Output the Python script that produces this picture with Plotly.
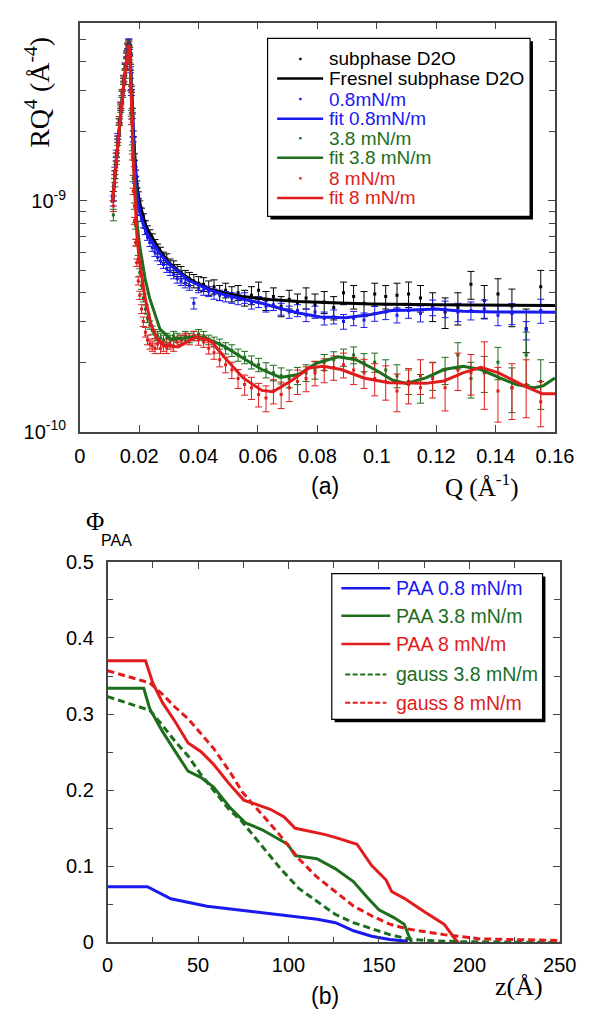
import numpy as np
import plotly.graph_objects as go

W, H = 597, 1020

# ---------------- panel (a): reflectivity data, units of 1e-10 ----------------
q_data = [0.0113, 0.0118, 0.0123, 0.0128, 0.0133, 0.0138, 0.0143, 0.0148, 0.0153, 0.0158,
          0.0162, 0.0165, 0.0168, 0.0171, 0.0174, 0.0177, 0.0180,
          0.0184, 0.0188, 0.0192, 0.0197, 0.0202, 0.0208, 0.0214, 0.0221, 0.0228, 0.0236,
          0.0244, 0.0253, 0.0262, 0.0272, 0.0282, 0.0293, 0.0304, 0.0316, 0.0328, 0.0341,
          0.0355, 0.0369, 0.0384, 0.0400, 0.0417, 0.0434, 0.0452, 0.0471, 0.0491, 0.0512,
          0.0533, 0.0555, 0.0578, 0.0602, 0.0627, 0.0652, 0.0678, 0.0705, 0.0733, 0.0762,
          0.0792, 0.0823, 0.0855, 0.0888, 0.0922, 0.0957, 0.0993, 0.1030, 0.1068, 0.1107,
          0.1147, 0.1188, 0.1230, 0.1273, 0.1317, 0.1362, 0.1408, 0.1455, 0.1503, 0.1552]

sub_val = [10.5, 13.0, 15.5, 18.5, 22.0, 25.5, 29.0, 33.0, 38.0, 42.5,
           46.5, 48.5, 45.0, 38.0, 30.5, 24.5, 19.5,
           15.5, 13.2, 11.8, 10.6, 9.7, 9.0, 8.5, 7.9, 7.5, 7.2,
           6.9, 6.5, 6.2, 6.0, 5.7, 5.6, 5.3, 5.2, 5.0, 4.9,
           4.7, 4.6, 4.5, 4.4, 4.35, 4.2, 4.25, 4.0, 4.1, 3.95,
           4.0, 3.8, 3.9, 4.1, 3.7, 3.85, 3.5, 3.75, 3.6, 3.8,
           3.55, 3.65, 3.45, 4.0, 3.85, 3.6, 3.95, 3.85, 3.9, 3.95,
           3.8, 3.5, 3.3, 3.45, 4.35, 3.7, 3.95, 3.5, 2.8, 4.25]
sub_err = [0.5, 0.5, 0.6, 0.6, 0.7, 0.8, 0.9, 1.0, 1.1, 1.2,
           1.3, 1.4, 1.3, 1.1, 0.9, 0.7, 0.6,
           0.5, 0.4, 0.4, 0.35, 0.3, 0.3, 0.3, 0.3, 0.3, 0.3,
           0.3, 0.3, 0.3, 0.3, 0.3, 0.3, 0.3, 0.3, 0.3, 0.3,
           0.3, 0.3, 0.3, 0.3, 0.3, 0.3, 0.3, 0.3, 0.3, 0.3,
           0.3, 0.3, 0.35, 0.35, 0.35, 0.35, 0.35, 0.35, 0.35, 0.4,
           0.4, 0.4, 0.4, 0.45, 0.45, 0.45, 0.45, 0.45, 0.5, 0.5,
           0.5, 0.5, 0.5, 0.55, 0.6, 0.6, 0.65, 0.65, 0.6, 0.75]

p08_val = [10.0, 13.5, 16.0, 19.0, 22.5, 26.0, 29.5, 34.0, 38.5, 43.5,
           47.0, 49.0, 44.0, 37.0, 29.5, 23.5, 18.5,
           14.5, 12.3, 11.0, 9.9, 9.0, 8.4, 7.9, 7.4, 7.0, 6.6,
           6.3, 6.0, 5.7, 5.5, 5.3, 5.1, 4.95, 4.8, 4.6, 4.5,
           4.4, 4.3, 3.6, 4.2, 4.1, 4.05, 3.95, 3.9, 3.85, 3.8,
           3.75, 3.8, 3.6, 3.65, 3.5, 3.55, 3.4, 3.3, 3.35, 3.2,
           3.3, 3.1, 3.15, 3.0, 3.1, 3.05, 3.25, 3.3, 3.2, 3.35,
           3.25, 3.45, 3.4, 3.3, 3.35, 3.4, 3.2, 3.25, 2.75, 3.35]
p08_err = [0.5, 0.5, 0.6, 0.6, 0.7, 0.8, 0.9, 1.0, 1.1, 1.2,
           1.3, 1.4, 1.3, 1.1, 0.9, 0.7, 0.5,
           0.45, 0.4, 0.35, 0.3, 0.3, 0.25, 0.25, 0.25, 0.25, 0.25,
           0.25, 0.25, 0.2, 0.2, 0.2, 0.2, 0.2, 0.2, 0.2, 0.2,
           0.2, 0.2, 0.2, 0.2, 0.2, 0.2, 0.2, 0.2, 0.2, 0.2,
           0.2, 0.2, 0.2, 0.2, 0.2, 0.2, 0.2, 0.2, 0.2, 0.2,
           0.2, 0.2, 0.22, 0.22, 0.22, 0.22, 0.24, 0.24, 0.24, 0.25,
           0.26, 0.27, 0.28, 0.3, 0.3, 0.32, 0.32, 0.34, 0.25, 0.4]

p38_val = [8.7, 12.0, 15.0, 18.0, 22.0, 25.0, 29.0, 33.5, 38.0, 43.0,
           47.0, 48.0, 42.0, 33.0, 24.0, 17.0, 12.5,
           9.5, 7.8, 6.6, 5.6, 4.9, 4.3, 3.8, 3.4, 3.1, 2.9,
           2.75, 2.65, 2.6, 2.55, 2.5, 2.55, 2.5, 2.6, 2.55, 2.5,
           2.6, 2.55, 2.6, 2.65, 2.6, 2.5, 2.45, 2.4, 2.3, 2.25,
           2.15, 2.1, 2.0, 1.95, 1.85, 1.8, 1.75, 1.7, 1.75, 1.8,
           1.85, 2.0, 2.05, 2.1, 2.15, 2.0, 2.0, 1.85, 1.75, 1.65,
           1.55, 1.75, 1.85, 2.15, 1.7, 1.8, 2.0, 1.55, 2.15, 1.65]
p38_err = [0.5, 0.5, 0.6, 0.6, 0.7, 0.8, 0.9, 1.0, 1.1, 1.2,
           1.3, 1.4, 1.2, 1.0, 0.7, 0.5, 0.4,
           0.3, 0.25, 0.22, 0.2, 0.18, 0.16, 0.15, 0.14, 0.13, 0.12,
           0.12, 0.12, 0.12, 0.12, 0.12, 0.12, 0.12, 0.12, 0.12, 0.12,
           0.12, 0.12, 0.12, 0.12, 0.12, 0.12, 0.12, 0.12, 0.13, 0.13,
           0.13, 0.13, 0.13, 0.13, 0.14, 0.14, 0.14, 0.15, 0.15, 0.15,
           0.16, 0.16, 0.17, 0.18, 0.18, 0.18, 0.19, 0.2, 0.2, 0.2,
           0.22, 0.24, 0.25, 0.28, 0.3, 0.32, 0.32, 0.34, 0.55, 0.4]

p8_val = [9.5, 12.5, 15.5, 18.5, 22.5, 26.0, 29.5, 34.0, 38.5, 43.0,
          46.5, 47.5, 41.0, 31.0, 22.0, 15.5, 11.0,
          8.2, 6.6, 5.4, 4.5, 3.9, 3.4, 3.0, 2.7, 2.5, 2.4,
          2.35, 2.3, 2.4, 2.3, 2.35, 2.3, 2.4, 2.35, 2.45, 2.5,
          2.55, 2.5, 2.6, 2.5, 2.45, 2.3, 2.2, 2.05, 1.95, 1.85,
          1.7, 1.6, 1.55, 1.45, 1.4, 1.5, 1.45, 1.55, 1.65, 1.7,
          1.8, 1.85, 1.9, 1.95, 1.85, 1.8, 1.7, 1.65, 1.5, 1.6,
          1.75, 1.7, 1.55, 1.85, 1.8, 1.85, 1.5, 1.55, 1.6, 1.35]
p8_err = [0.5, 0.5, 0.6, 0.6, 0.7, 0.8, 0.9, 1.0, 1.1, 1.2,
          1.3, 1.4, 1.2, 0.9, 0.6, 0.45, 0.35,
          0.28, 0.22, 0.2, 0.18, 0.16, 0.15, 0.14, 0.13, 0.12, 0.12,
          0.12, 0.12, 0.12, 0.12, 0.12, 0.12, 0.12, 0.12, 0.12, 0.12,
          0.12, 0.12, 0.12, 0.13, 0.13, 0.13, 0.14, 0.14, 0.15, 0.15,
          0.16, 0.16, 0.17, 0.17, 0.18, 0.18, 0.19, 0.2, 0.2, 0.21,
          0.22, 0.22, 0.23, 0.24, 0.25, 0.26, 0.27, 0.28, 0.28, 0.28,
          0.3, 0.3, 0.32, 0.34, 0.36, 0.6, 0.4, 0.42, 0.45, 0.3]

# fits / Fresnel curves (units of 1e-10)
q_fres = [0.0110, 0.0120, 0.0130, 0.0140, 0.0150, 0.0158, 0.0163, 0.0166, 0.0169, 0.0172,
          0.0176, 0.0180, 0.0185, 0.0190, 0.0196, 0.0203, 0.0213, 0.0225, 0.0245, 0.0270,
          0.0300, 0.0343, 0.0380, 0.0430, 0.0490, 0.0550, 0.0640, 0.0736, 0.0850, 0.0980,
          0.1200, 0.1400, 0.1600]
v_fres = [9.8, 13.8, 19.0, 25.5, 33.5, 41.0, 46.5, 48.5, 44.5, 37.5,
          28.0, 20.5, 15.0, 12.5, 10.8, 9.6, 8.6, 7.6, 6.9, 6.1,
          5.4, 4.85, 4.5, 4.17, 3.98, 3.85, 3.74, 3.67, 3.62, 3.58,
          3.55, 3.53, 3.52]

q_fit08 = [0.0110, 0.0120, 0.0130, 0.0140, 0.0150, 0.0158, 0.0163, 0.0166, 0.0169, 0.0172,
           0.0176, 0.0180, 0.0185, 0.0190, 0.0196, 0.0203, 0.0213, 0.0225, 0.0245, 0.0275,
           0.0307, 0.0337, 0.0368, 0.0430, 0.0490, 0.0550, 0.0613, 0.0675, 0.0736, 0.0810,
           0.0895, 0.0980, 0.1050, 0.1100, 0.1200, 0.1290, 0.1400, 0.1500, 0.1600]
v_fit08 = [9.8, 13.8, 19.0, 25.5, 33.5, 41.0, 46.5, 48.5, 44.0, 37.0,
           27.0, 19.5, 14.2, 11.8, 10.0, 8.9, 8.0, 7.3, 6.6, 5.8,
           5.24, 4.85, 4.52, 4.15, 3.91, 3.75, 3.6, 3.42, 3.27, 3.14,
           3.12, 3.22, 3.35, 3.36, 3.4, 3.33, 3.3, 3.3, 3.29]

q_fit38 = [0.0110, 0.0120, 0.0130, 0.0140, 0.0150, 0.0158, 0.0163, 0.0166, 0.0169, 0.0172,
           0.0176, 0.0180, 0.0185, 0.0192, 0.0200, 0.0208, 0.0220, 0.0235, 0.0245, 0.0270,
           0.0307, 0.0337, 0.0368, 0.0400, 0.0430, 0.0490, 0.0550, 0.0613, 0.0675, 0.0736,
           0.0797, 0.0870, 0.0930, 0.0993, 0.1054, 0.1100, 0.1165, 0.1226, 0.1290, 0.1350,
           0.1410, 0.1470, 0.1530, 0.1560, 0.1600]
v_fit38 = [9.8, 13.8, 19.0, 25.5, 33.5, 41.0, 46.5, 48.0, 43.0, 35.0,
           24.0, 16.5, 11.5, 8.2, 6.6, 5.6, 4.6, 3.8, 3.45, 2.78,
           2.52, 2.54, 2.56, 2.58, 2.53, 2.33, 2.08, 1.86, 1.72, 1.77,
           1.98, 2.11, 2.05, 1.86, 1.67, 1.62, 1.71, 1.86, 1.92, 1.86,
           1.72, 1.6, 1.55, 1.58, 1.71]

q_fit8 = [0.0110, 0.0120, 0.0130, 0.0140, 0.0150, 0.0158, 0.0163, 0.0166, 0.0169, 0.0172,
          0.0176, 0.0180, 0.0185, 0.0192, 0.0200, 0.0208, 0.0220, 0.0239, 0.0258, 0.0282,
          0.0331, 0.0360, 0.0390, 0.0441, 0.0490, 0.0550, 0.0613, 0.0650, 0.0711, 0.0772,
          0.0820, 0.0880, 0.0956, 0.1040, 0.1165, 0.1226, 0.1290, 0.1350, 0.1410, 0.1496,
          0.1557, 0.1600]
v_fit8 = [9.8, 13.8, 19.0, 25.5, 33.5, 41.0, 46.5, 47.5, 42.0, 33.5,
          22.5, 15.0, 10.2, 7.2, 5.6, 4.7, 3.8, 2.95, 2.55, 2.37,
          2.33, 2.45, 2.57, 2.48, 2.08, 1.71, 1.51, 1.49, 1.66, 1.89,
          1.92, 1.86, 1.71, 1.63, 1.62, 1.66, 1.8, 1.9, 1.8, 1.58,
          1.46, 1.46]

# ---------------- panel (b): volume fraction profiles ----------------
z_paa08 = [0, 22, 35, 55, 75, 96, 116, 126, 136, 146, 156, 166]
phi_paa08 = [0.0733, 0.0733, 0.0574, 0.0476, 0.042, 0.036, 0.0304, 0.026, 0.0154, 0.0081, 0.004, 0.0017]

z_paa38 = [0, 20, 23.3, 30.4, 37.4, 44.5, 51.5, 58.6, 67.4, 76.3, 85.5, 95.6, 99.6, 103.7,
           115.7, 125.8, 135.9, 144, 150, 158, 164, 168]
phi_paa38 = [0.334, 0.334, 0.307, 0.277, 0.251, 0.225, 0.217, 0.204, 0.178, 0.157, 0.148, 0.135,
             0.129, 0.114, 0.11, 0.097, 0.08, 0.058, 0.043, 0.033, 0.024, 0.0]

z_paa8 = [0, 21, 25, 30.4, 37.4, 44.5, 51.5, 58.6, 67.4, 75.3, 81.4, 90, 97.6, 103.7, 107.7,
          119.8, 125.8, 137.9, 146, 154, 157, 164, 176, 186, 192, 194]
phi_paa8 = [0.37, 0.37, 0.341, 0.315, 0.29, 0.262, 0.251, 0.234, 0.208, 0.187, 0.182, 0.175,
            0.165, 0.150, 0.148, 0.142, 0.138, 0.129, 0.101, 0.082, 0.067, 0.058, 0.039, 0.024,
            0.005, 0.0]

z_gauss38 = [0, 23.3, 30.4, 37.4, 44.5, 51.5, 58.6, 67.4, 73.5, 85.5, 95.6, 105.7, 115.7,
             125.8, 135.9, 146, 156, 166, 176, 196, 250]
phi_gauss38 = [0.323, 0.305, 0.285, 0.264, 0.245, 0.221, 0.2, 0.174, 0.161, 0.127, 0.097, 0.071,
               0.054, 0.037, 0.026, 0.0176, 0.0103, 0.0047, 0.0026, 0.001, 0.0]

z_gauss8 = [0, 23.3, 30.4, 37.4, 44.5, 51.5, 58.6, 67.4, 74.4, 79.7, 85.5, 95.6, 105.7, 115.7,
            125.8, 135.9, 146, 156, 166, 186, 206, 226, 250]
phi_gauss8 = [0.357, 0.341, 0.326, 0.309, 0.294, 0.275, 0.255, 0.225, 0.198, 0.183, 0.168, 0.14,
              0.11, 0.086, 0.067, 0.048, 0.035, 0.024, 0.0176, 0.0103, 0.0047, 0.0034, 0.0026]

# tick labels
xa_ticks = [0, 0.02, 0.04, 0.06, 0.08, 0.10, 0.12, 0.14, 0.16]
xa_text = ["0", "0.02", "0.04", "0.06", "0.08", "0.1", "0.12", "0.14", "0.16"]
ya_ticks = [1e-10, 1e-9]
ya_text = ["10<sup>-10</sup>", "10<sup>-9</sup>"]
ya_minor = [2e-10, 3e-10, 4e-10, 5e-10, 6e-10, 7e-10, 8e-10, 9e-10, 2e-9, 3e-9, 4e-9, 5e-9]
xb_ticks = [0, 50, 100, 150, 200, 250]
xb_text = ["0", "50", "100", "150", "200", "250"]
xb_minor = [25, 75, 125, 175, 225]
yb_ticks = [0, 0.1, 0.2, 0.3, 0.4, 0.5]
yb_text = ["0", "0.1", "0.2", "0.3", "0.4", "0.5"]
yb_minor = [0.05, 0.15, 0.25, 0.35, 0.45]

BLACK = "#000000"
BLUE = "#1a1aee"
GREEN = "#1d6e1d"
RED = "#e01c1c"
SANS = "Liberation Sans, Arial, sans-serif"
SERIF = "Liberation Serif, Times New Roman, serif"
UNIT = 1e-10


def px(x):
    return x / W


def py(y):
    return 1 - y / H


fig = go.Figure()

for vals, errs, col in [(sub_val, sub_err, BLACK), (p08_val, p08_err, BLUE),
                        (p38_val, p38_err, GREEN), (p8_val, p8_err, RED)]:
    fig.add_trace(go.Scatter(
        x=q_data, y=np.array(vals) * UNIT, mode="markers",
        marker=dict(symbol="square", size=3, color=col, line=dict(width=0)),
        error_y=dict(type="data", array=np.array(errs) * UNIT, color=col, thickness=1, width=3.5),
        xaxis="x", yaxis="y", showlegend=False))

for qq, vv, col in [(q_fres, v_fres, BLACK), (q_fit08, v_fit08, BLUE),
                    (q_fit38, v_fit38, GREEN), (q_fit8, v_fit8, RED)]:
    fig.add_trace(go.Scatter(
        x=qq, y=np.array(vv) * UNIT, mode="lines", line=dict(color=col, width=3),
        xaxis="x", yaxis="y", showlegend=False))

for zz, pp, col, dash in [(z_paa08, phi_paa08, BLUE, "solid"), (z_paa38, phi_paa38, GREEN, "solid"),
                          (z_paa8, phi_paa8, RED, "solid"), (z_gauss38, phi_gauss38, GREEN, "7px,4px"),
                          (z_gauss8, phi_gauss8, RED, "7px,4px")]:
    fig.add_trace(go.Scatter(
        x=zz, y=pp, mode="lines", line=dict(color=col, width=3, dash=dash),
        xaxis="x2", yaxis="y2", showlegend=False))

axis_common = dict(showline=True, linecolor="#444444", linewidth=1.5, mirror="ticks",
                   ticks="inside", ticklen=7, tickwidth=1.2, tickcolor="#444444",
                   showgrid=False, zeroline=False,
                   tickfont=dict(family=SANS, size=20, color="black"))


def minor(vals):
    return dict(tickmode="array", tickvals=vals, ticks="inside", ticklen=6,
                tickwidth=1.2, tickcolor="#444444", showgrid=False)


fig.update_layout(
    width=W, height=H, margin=dict(l=0, r=0, t=0, b=0),
    paper_bgcolor="white", plot_bgcolor="white", showlegend=False,
    xaxis=dict(domain=[px(77), px(573)], range=[0, 0.16], tickmode="array",
               tickvals=xa_ticks, ticktext=xa_text, anchor="y", ticklabelstandoff=6, **axis_common),
    yaxis=dict(domain=[py(430), py(12)], type="log", range=[-10, -8.228], tickmode="array",
               tickvals=ya_ticks, ticktext=ya_text, anchor="x", ticklabelstandoff=8,
               minor=minor(ya_minor), **axis_common),
    xaxis2=dict(domain=[px(106), px(578)], range=[0, 250], tickmode="array",
                tickvals=xb_ticks, ticktext=xb_text, anchor="y2", ticklabelstandoff=4,
                minor=minor(xb_minor), **axis_common),
    yaxis2=dict(domain=[py(952), py(563)], range=[0, 0.5], tickmode="array",
                tickvals=yb_ticks, ticktext=yb_text, anchor="x2", ticklabelstandoff=8,
                minor=minor(yb_minor), **axis_common),
)

shapes = []
annots = []

# legend (a)
shapes.append(dict(type="rect", xref="paper", yref="paper", x0=px(276), x1=px(550), y0=py(213), y1=py(31),
                   fillcolor="black", line=dict(width=0), layer="above"))
shapes.append(dict(type="rect", xref="paper", yref="paper", x0=px(273), x1=px(547), y0=py(210), y1=py(28),
                   fillcolor="white", line=dict(color="black", width=1.2), layer="above"))
leg_a = [("subphase D2O", BLACK, "dot"), ("Fresnel subphase D2O", BLACK, "line"),
         ("0.8mN/m", BLUE, "dot"), ("fit 0.8mN/m", BLUE, "line"),
         ("3.8 mN/m", GREEN, "dot"), ("fit 3.8 mN/m", GREEN, "line"),
         ("8 mN/m", RED, "dot"), ("fit 8 mN/m", RED, "line")]
rows_a = [49, 69, 90, 110, 130, 150, 171, 191]
for (label, col, kind), yy in zip(leg_a, rows_a):
    if kind == "line":
        shapes.append(dict(type="line", xref="paper", yref="paper", x0=px(283), x1=px(331), y0=py(yy), y1=py(yy),
                           line=dict(color=col, width=2.5), layer="above"))
    else:
        shapes.append(dict(type="rect", xref="paper", yref="paper", x0=px(306), x1=px(308.5),
                           y0=py(yy + 1.2), y1=py(yy - 1.2), fillcolor=col, line=dict(width=0), layer="above"))
    annots.append(dict(xref="paper", yref="paper", x=px(335), y=py(yy), text=label, showarrow=False,
                       xanchor="left", yanchor="middle", font=dict(family=SANS, size=19, color=col)))

# legend (b)
shapes.append(dict(type="rect", xref="paper", yref="paper", x0=px(343), x1=px(563), y0=py(727), y1=py(578),
                   fillcolor="black", line=dict(width=0), layer="above"))
shapes.append(dict(type="rect", xref="paper", yref="paper", x0=px(340), x1=px(560), y0=py(724), y1=py(575),
                   fillcolor="white", line=dict(color="black", width=1.2), layer="above"))
leg_b = [("PAA 0.8 mN/m", BLUE, "solid"), ("PAA 3.8 mN/m", GREEN, "solid"), ("PAA 8 mN/m", RED, "solid"),
         ("gauss 3.8 mN/m", GREEN, "dash"), ("gauss 8 mN/m", RED, "dash")]
rows_b = [590, 618, 647, 678, 707]
for (label, col, kind), yy in zip(leg_b, rows_b):
    if kind == "solid":
        shapes.append(dict(type="line", xref="paper", yref="paper", x0=px(350), x1=px(401), y0=py(yy), y1=py(yy),
                           line=dict(color=col, width=2.5), layer="above"))
    else:
        shapes.append(dict(type="line", xref="paper", yref="paper", x0=px(354), x1=px(397), y0=py(yy), y1=py(yy),
                           line=dict(color=col, width=2, dash="5px,2.5px"), layer="above"))
    annots.append(dict(xref="paper", yref="paper", x=px(405), y=py(yy), text=label, showarrow=False,
                       xanchor="left", yanchor="middle", font=dict(family=SANS, size=19.5, color=col)))

# titles / labels
annots += [
    dict(xref="paper", yref="paper", x=px(33), y=py(83), text="RQ<sup>4</sup> (Å<sup>-4</sup>)", textangle=-90,
         showarrow=False, xanchor="center", yanchor="middle", font=dict(family=SERIF, size=28, color="black")),
    dict(xref="paper", yref="paper", x=px(333), y=py(485), text="(a)", showarrow=False,
         xanchor="center", yanchor="middle", font=dict(family=SANS, size=23, color="black")),
    dict(xref="paper", yref="paper", x=px(538), y=py(485), text="Q (Å<sup>-1</sup>)", showarrow=False,
         xanchor="right", yanchor="middle", font=dict(family=SERIF, size=25, color="black")),
    dict(xref="paper", yref="paper", x=px(93), y=py(522), text="Φ", showarrow=False,
         xanchor="center", yanchor="middle", font=dict(family=SERIF, size=25, color="black")),
    dict(xref="paper", yref="paper", x=px(97), y=py(541), text="PAA", showarrow=False,
         xanchor="left", yanchor="middle", font=dict(family=SANS, size=16, color="black")),
    dict(xref="paper", yref="paper", x=px(563), y=py(997), text="z(Å)", showarrow=False,
         xanchor="right", yanchor="middle", font=dict(family=SERIF, size=26, color="black")),
    dict(xref="paper", yref="paper", x=px(333), y=py(1007), text="(b)", showarrow=False,
         xanchor="center", yanchor="middle", font=dict(family=SANS, size=23, color="black")),
]

fig.update_layout(shapes=shapes, annotations=annots)
fig.write_html("out.html", config={"displayModeBar": False},
               post_script="document.body.style.margin='0';document.body.style.overflow='hidden';")
